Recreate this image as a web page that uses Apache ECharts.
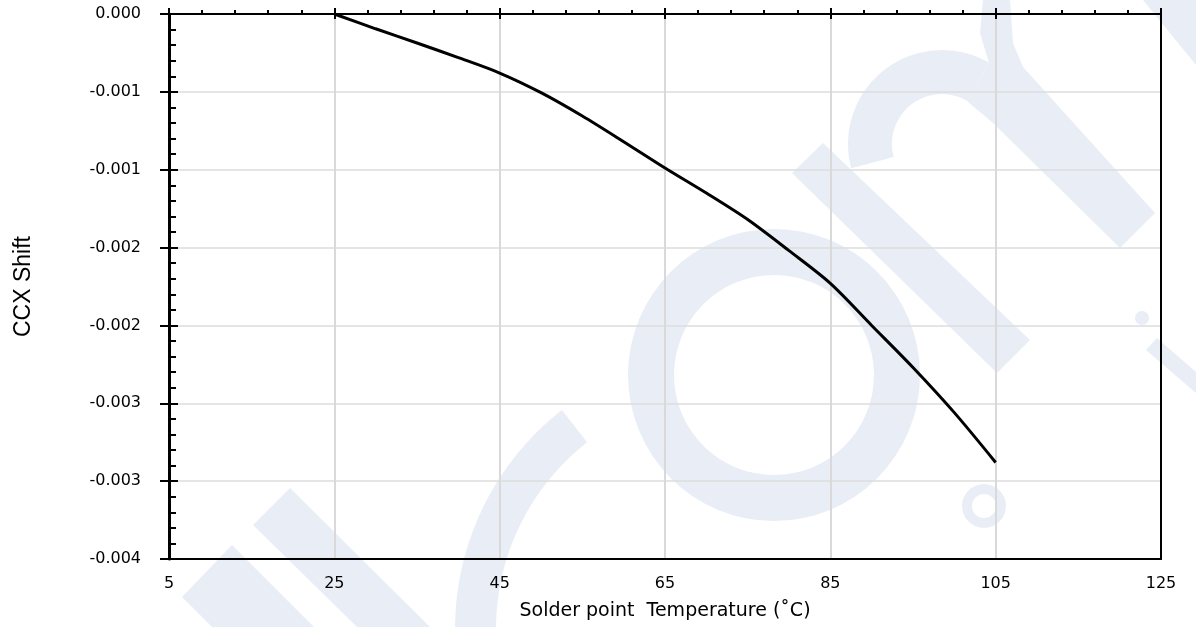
<!DOCTYPE html>
<html>
<head>
<meta charset="utf-8">
<script src="https://cdn.jsdelivr.net/npm/echarts@6/dist/echarts.min.js"></script>
<style>html,body{margin:0;padding:0;background:#fff}#c{width:1196px;height:627px}</style>
</head>
<body>
<div id="c"></div>
<script>
const temperatures = [25, 30, 35, 40, 45, 50, 55, 60, 65, 70, 75, 80, 85, 90, 95, 100, 105];
const ccxShift = [0, -0.000095, -0.000186, -0.00028, -0.000379, -0.000505, -0.000655, -0.00082, -0.000989, -0.00115, -0.00132, -0.00152, -0.00173, -0.002, -0.00227, -0.00256, -0.00288];
const xTicks = { min: 5, max: 125, interval: 20 };
const yTicks = { min: -0.0035, max: 0, interval: 0.0005 };

const chart = echarts.init(document.getElementById('c'));
const labelFont = "'DejaVu Sans', sans-serif";
const wm = 'rgba(45, 90, 170, 0.11)';
const deg = d => d * Math.PI / 180;
const wmEl = (type, shape) => ({ type, z: -100, silent: true, shape, style: { fill: wm } });
const yBase = { type: 'value', min: yTicks.min, max: yTicks.max, interval: yTicks.interval, position: 'left' };
const xBase = { type: 'value', min: xTicks.min, max: xTicks.max, interval: xTicks.interval };
chart.setOption({
  animation: false,
  backgroundColor: '#fff',
  graphic: {
    elements: [
      wmEl('ring', { cx: 774, cy: 375, r: 146, r0: 100 }),
      wmEl('sector', { cx: 733, cy: 629, r: 278, r0: 237, startAngle: deg(150), endAngle: deg(232), clockwise: true }),
      wmEl('polygon', { points: [[182, 597], [232, 545], [314, 627], [212, 627]] }),
      wmEl('polygon', { points: [[253, 525], [290, 488], [430, 627], [357, 627]] }),
      wmEl('polygon', { points: [[792, 173], [823, 143], [1030, 340], [997, 373]] }),
      wmEl('sector', { cx: 942, cy: 144, r: 94, r0: 50, startAngle: deg(165), endAngle: deg(300), clockwise: true }),
      wmEl('polygon', { points: [[967, 101], [993, 123], [1120, 248], [1155, 213], [1023, 67], [1013, 43], [1010, 0], [983, 0], [980, 33], [989, 63]] }),
      wmEl('polygon', { points: [[1143, 0], [1196, 0], [1196, 65]] }),
      wmEl('ring', { cx: 984, cy: 506, r: 22, r0: 12 }),
      wmEl('circle', { cx: 1142, cy: 318, r: 7 }),
      wmEl('polygon', { points: [[1146, 350], [1157, 338], [1196, 372], [1196, 393]] })
    ]
  },
  grid: { left: 169, right: 35, top: 14, bottom: 68 },
  xAxis: [
    Object.assign({}, xBase, {
      position: 'bottom',
      name: 'Solder point  Temperature (\u02daC)',
      nameLocation: 'middle', nameGap: 43,
      nameTextStyle: { fontFamily: labelFont, fontSize: 19, color: '#000' },
      axisLine: { show: true, onZero: false, lineStyle: { color: '#000', width: 2 } },
      axisTick: { show: false },
      axisLabel: { fontFamily: labelFont, fontSize: 16, color: '#000', margin: 17 },
      splitLine: { show: true, lineStyle: { color: '#d9d9d9', width: 2 } }
    }),
    Object.assign({}, xBase, {
      position: 'top',
      axisLine: { show: true, onZero: false, lineStyle: { color: '#000', width: 2 } },
      axisTick: { show: true, inside: false, length: 6, lineStyle: { color: '#000', width: 2 } },
      minorTick: { show: true, splitNumber: 5, length: 4, lineStyle: { color: '#000', width: 2 } },
      axisLabel: { show: false },
      splitLine: { show: false }
    }),
    Object.assign({}, xBase, {
      position: 'top',
      axisLine: { show: false },
      axisTick: { show: true, inside: true, length: 5, lineStyle: { color: '#000', width: 2 } },
      axisLabel: { show: false },
      splitLine: { show: false }
    })
  ],
  yAxis: [
    Object.assign({}, yBase, {
      name: 'CCX Shift',
      nameLocation: 'middle', nameGap: 134, nameRotate: 90,
      nameTextStyle: { fontFamily: "'Liberation Sans', Arial, sans-serif", fontSize: 23, color: '#000' },
      axisLine: { show: true, onZero: false, lineStyle: { color: '#000', width: 3 } },
      axisTick: { show: true, inside: true, length: 9, lineStyle: { color: '#000', width: 2 } },
      minorTick: { show: true, splitNumber: 5, length: 7, lineStyle: { color: '#000', width: 2 } },
      axisLabel: { fontFamily: labelFont, fontSize: 16, color: '#000', margin: 28,
        formatter: v => (Math.abs(v) < 1e-12 ? 0 : v).toFixed(3) },
      splitLine: { show: true, lineStyle: { color: '#dcdcdc', width: 1.5 } }
    }),
    Object.assign({}, yBase, {
      axisLine: { show: false },
      axisTick: { show: true, inside: false, length: 9, lineStyle: { color: '#000', width: 2 } },
      axisLabel: { show: false },
      splitLine: { show: false }
    }),
    Object.assign({}, yBase, {
      position: 'right',
      axisLine: { show: true, onZero: false, lineStyle: { color: '#000', width: 2 } },
      axisTick: { show: false },
      axisLabel: { show: false },
      splitLine: { show: false }
    })
  ],
  series: [{
    type: 'line',
    xAxisIndex: 0, yAxisIndex: 0,
    data: temperatures.map((t, i) => [t, ccxShift[i]]),
    smooth: 0.3,
    showSymbol: false,
    lineStyle: { color: '#000', width: 3 },
    z: 5
  }]
});
</script>
</body>
</html>
